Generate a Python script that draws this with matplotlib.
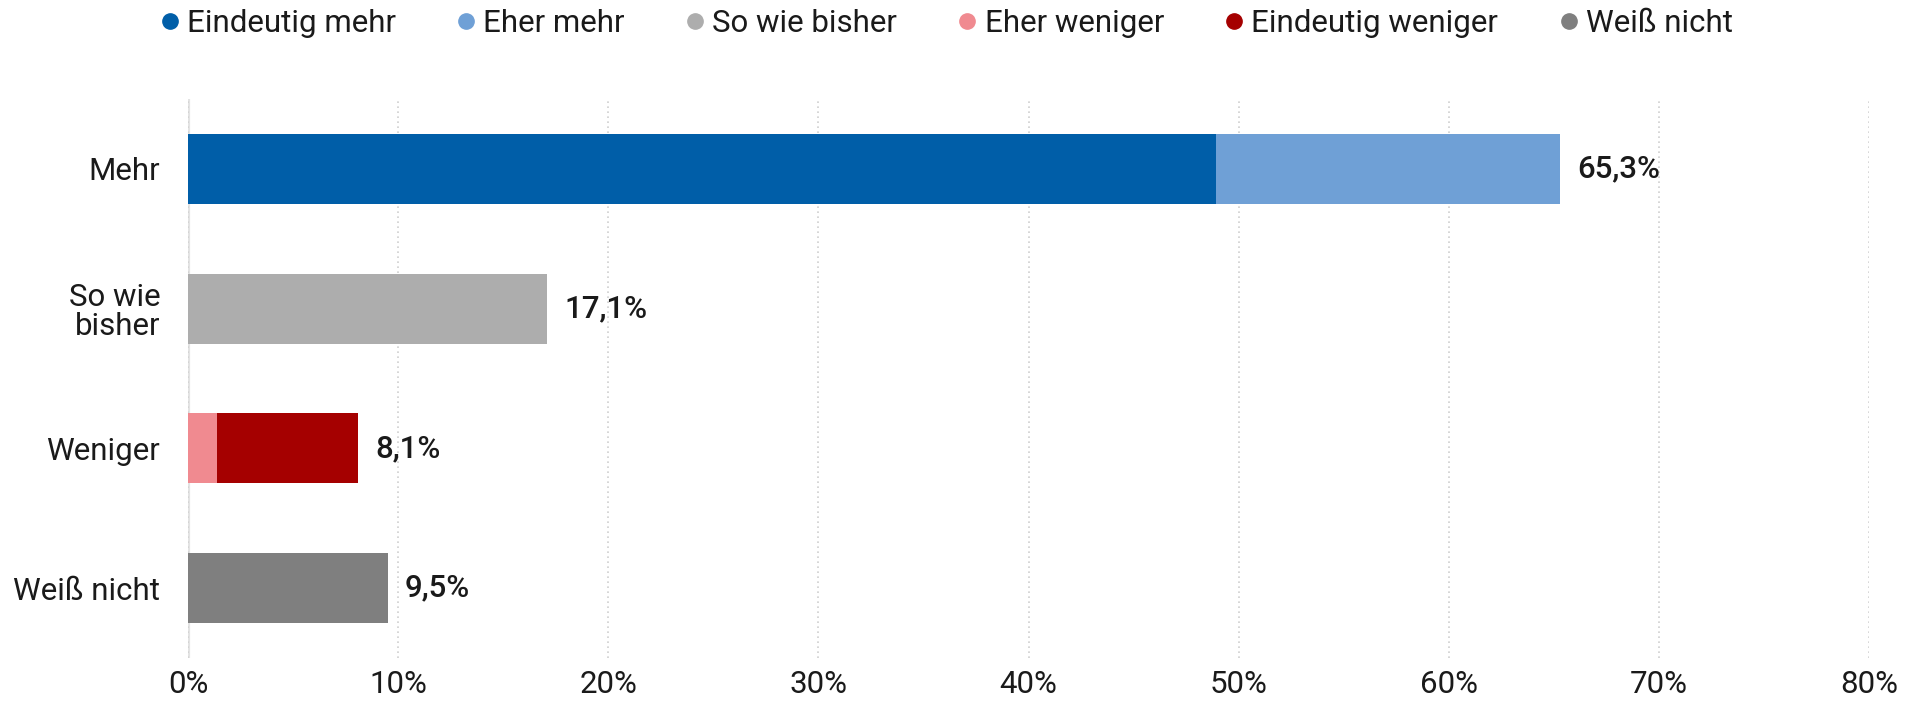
import matplotlib.pyplot as plt
from matplotlib.lines import Line2D
from matplotlib.ticker import FuncFormatter

plt.rcParams["font.family"] = ["Roboto", "DejaVu Sans"]

categories = ["Mehr", "So wie\nbisher", "Weniger", "Weiß nicht"]
series_names = ["Eindeutig mehr", "Eher mehr", "So wie bisher",
                "Eher weniger", "Eindeutig weniger", "Weiß nicht"]
colors = ["#005ea8", "#6fa0d6", "#adadad", "#f08a90", "#a50000", "#7f7f7f"]

# segment values per category (in %), drawn left to right
eindeutig_mehr = [48.9, 0, 0, 0]
eher_mehr = [16.4, 0, 0, 0]
so_wie_bisher = [0, 17.1, 0, 0]
eher_weniger = [0, 0, 1.4, 0]
eindeutig_weniger = [0, 0, 6.7, 0]
weiss_nicht = [0, 0, 0, 9.5]
totals = [65.3, 17.1, 8.1, 9.5]

series = [eindeutig_mehr, eher_mehr, so_wie_bisher,
          eher_weniger, eindeutig_weniger, weiss_nicht]

fig = plt.figure(figsize=(19.23, 7.02), dpi=100)
ax = fig.add_axes([0.0978, 0.0627, 0.8742, 0.7963])

ypos = list(range(len(categories)))
left = [0.0] * len(categories)
for vals, col, name in zip(series, colors, series_names):
    ax.barh(ypos, vals, left=left, height=0.5, color=col, label=name, zorder=3)
    left = [l + v for l, v in zip(left, vals)]

for y, t in zip(ypos, totals):
    ax.annotate(f"{t:.1f}%".replace(".", ","), xy=(t, y), xytext=(12, 0),
                textcoords="offset points", va="center", ha="left",
                fontsize=22.5, fontweight="medium", color="#1a1a1a")

ax.set_xlim(0, 80)
ax.set_ylim(3.5, -0.5)
ax.set_xticks(range(0, 81, 10))
ax.xaxis.set_major_formatter(FuncFormatter(lambda v, p: f"{int(v)}%"))
ax.set_yticks(ypos)
ax.set_yticklabels(categories, linespacing=1.0)
ax.tick_params(axis="both", length=0, labelsize=22.5, colors="#1a1a1a")
ax.tick_params(axis="x", pad=9)
ax.tick_params(axis="y", pad=20)

for s in ["top", "right", "bottom", "left"]:
    ax.spines[s].set_visible(False)

ax.grid(axis="x", linestyle=(0, (1, 2)), color="#d0d0d0", linewidth=1.2, zorder=0)
ax.axvline(0, color="#e3e3e3", linewidth=3, zorder=1)

handles = [Line2D([0], [0], marker="o", linestyle="", markersize=11,
                  markerfacecolor=c, markeredgecolor=c) for c in colors]
fig.legend(handles, series_names, loc="center", bbox_to_anchor=(0.4865, 0.967),
           ncol=6, frameon=False, fontsize=22.5, handletextpad=-0.45,
           columnspacing=1.25, labelcolor="#1a1a1a")

fig.savefig("out.png", dpi=100)
